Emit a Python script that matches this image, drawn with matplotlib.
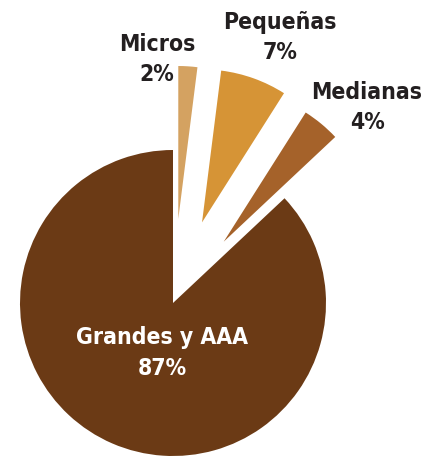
import matplotlib.pyplot as plt

# data
labels = ["Micros", "Pequeñas", "Medianas", "Grandes y AAA"]
shares = [2, 7, 4, 87]
colors = ["#D4A261", "#D69436", "#A5622A", "#6B3A15"]
explode = [0.55, 0.56, 0.52, 0.0]

# label placement (in pie radius units) and colours
label_pos = [(-0.105, 1.59), (0.70, 1.735), (1.268, 1.278), (-0.072, -0.327)]
label_colors = ["#231F20", "#231F20", "#231F20", "white"]

fig = plt.figure(figsize=(4.31, 4.59), dpi=100)
ax = fig.add_axes([0, 0, 1, 1])

ax.pie(shares, colors=colors, explode=explode, startangle=90,
       counterclock=False, radius=1.0,
       wedgeprops=dict(linewidth=0, antialiased=True))

for name, val, (x, y), c in zip(labels, shares, label_pos, label_colors):
    ax.text(x, y, f"{name}\n{val}%", ha="center", va="center",
            color=c, fontsize=16.5, fontweight="bold", fontstretch="condensed",
            family=["DejaVu Sans"], linespacing=1.4)

# pie centre at pixel (173, 303), radius 153 px
r = 153
ax.set_aspect("auto")
ax.set_xlim(-173 / r, (431 - 173) / r)
ax.set_ylim(-(459 - 303) / r, 303 / r)
ax.axis("off")

fig.savefig("out.png", dpi=100)
